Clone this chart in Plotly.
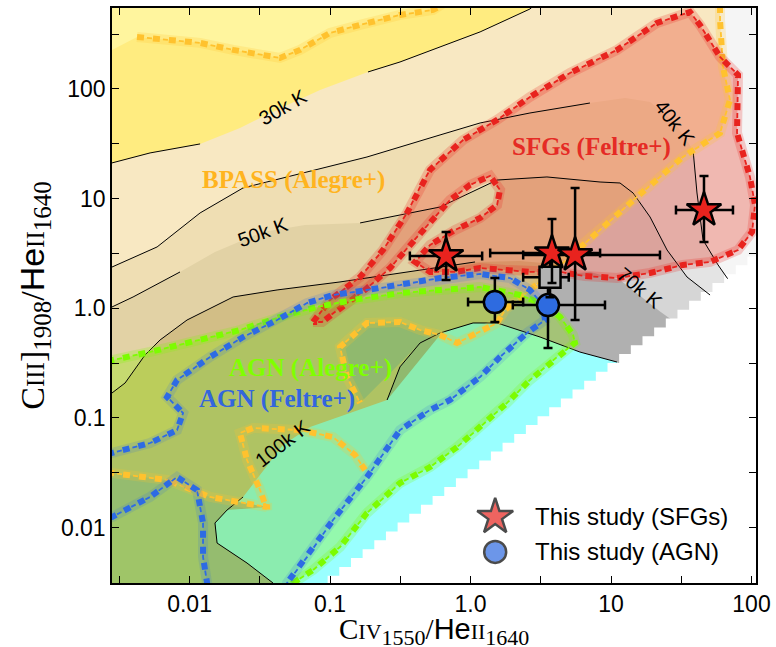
import numpy as np
import plotly.graph_objects as go

# ---------------- measurements: this study ----------------
sfg_civ = [0.67, 3.80, 5.55, 45.9]
sfg_civ_lo = [0.37, 1.38, 2.37, 29.0]
sfg_civ_hi = [1.21, 8.36, 22.3, 73.8]
sfg_ciii = [3.00, 3.19, 3.06, 7.87]
sfg_ciii_lo = [1.81, 1.70, 0.78, 4.02]
sfg_ciii_hi = [4.95, 6.52, 12.5, 16.1]

agn_civ = [1.49, 3.56]
agn_civ_lo = [0.96, 2.00]
agn_civ_hi = [2.37, 9.06]
agn_ciii = [1.14, 1.07]
agn_ciii_lo = [0.75, 0.435]
agn_ciii_hi = [1.89, 1.58]

stack_civ = [3.68]
stack_civ_lo = [2.37]
stack_civ_hi = [5.0]
stack_ciii = [1.92]
stack_ciii_lo = [1.26]
stack_ciii_hi = [2.8]

# ---------------- model grids (log10 CIV/HeII, log10 CIII]/HeII) ----------------
t30 = [(-2.70, 1.31), (-2.552, 1.325), (-2.281, 1.416), (-1.925, 1.498), (-1.641, 1.644),
       (-1.335, 1.835), (-1.071, 1.990), (-0.730, 2.154), (-0.502, 2.245), (-0.217, 2.382),
       (0.068, 2.519), (0.423, 2.728), (0.495, 2.81), (0.56, 2.90)]
t40 = [(-2.70, 0.36), (-2.552, 0.376), (-2.231, 0.559), (-1.925, 0.869), (-1.619, 1.097),
       (-1.306, 1.197), (-0.737, 1.379), (-0.217, 1.580), (0.068, 1.689), (0.423, 1.780),
       (0.850, 1.871), (1.100, 1.917), (1.278, 1.881), (1.456, 1.688), (1.584, 1.443),
       (1.612, 1.051), (1.655, 0.623), (1.762, 0.395), (1.83, 0.27), (2.00, 0.05), (2.20, -0.25)]
t50 = [(-2.70, -0.01), (-2.552, 0.012), (-2.402, 0.103), (-2.068, 0.331), (-1.819, 0.513),
       (-1.477, 0.696), (-1.178, 0.759), (-0.786, 0.778), (-0.217, 0.923), (0.189, 1.169),
       (0.544, 1.197), (0.922, 1.151), (1.064, 1.142), (1.157, 1.051), (1.278, 0.832),
       (1.399, 0.531), (1.541, 0.285), (1.705, 0.121), (1.85, -0.05), (2.2, -0.35)]
t60 = [(-2.70, -0.90), (-2.552, -0.772), (-2.459, -0.681), (-2.317, -0.426), (-2.210, -0.289),
       (-2.018, -0.107), (-1.690, 0.103), (-1.377, 0.167), (-0.929, 0.240), (-0.217, 0.376),
       (0.032, 0.422)]
t70 = [(0.35, 0.43), (0.637, 0.40), (0.851, 0.33), (1.064, 0.258), (1.349, -0.03),
       (1.491, -0.16), (1.75, -0.45), (2.2, -0.8)]
t100 = [(-1.45, -2.8), (-1.406, -2.504), (-1.591, -2.322), (-1.804, -2.140), (-1.819, -1.957),
        (-1.733, -1.839), (-1.619, -1.720), (-1.335, -1.246), (-1.142, -1.082), (-0.594, -0.836),
        (-0.502, -0.534), (-0.359, -0.316), (-0.217, -0.225), (0.018, -0.134), (0.189, -0.134),
        (0.495, -0.262), (0.779, -0.399), (1.043, -0.490), (1.4, -0.75), (1.4, -2.8)]

# BPASS coverage borders
bpass_top = [(-2.374, 2.473), (-2.160, 2.446), (-1.925, 2.419), (-1.690, 2.355), (-1.356, 2.282),
             (-1.214, 2.355), (-1.000, 2.510), (-0.786, 2.583), (-0.644, 2.628), (-0.502, 2.674),
             (-0.267, 2.719), (-0.15, 2.80), (-0.05, 2.90)]
bpass_right = [(1.776, 2.90), (1.776, 2.628), (1.797, 2.200), (1.847, 1.899), (1.776, 1.598),
               (1.512, 1.379), (1.185, 1.015), (0.922, 0.714), (0.658, 0.413), (0.423, 0.167),
               (0.246, -0.015), (0.189, -0.134), (-0.004, -0.262), (-0.096, -0.316),
               (-0.217, -0.243), (-0.359, -0.198), (-0.502, -0.125), (-0.737, -0.134),
               (-0.929, -0.353), (-0.879, -0.626), (-0.786, -0.863)]
bpass_low = [(-2.70, -1.49), (-2.552, -1.502), (-2.160, -1.565), (-1.854, -1.720), (-1.448, -1.812),
             (-1.448, -1.839), (-1.498, -1.657), (-1.591, -1.383), (-1.641, -1.137), (-1.548, -1.091),
             (-1.214, -1.110), (-0.979, -1.174), (-0.822, -1.337), (-0.751, -1.474)]

sfg_feltre = [(-1.121, -0.125), (-1.000, 0.076), (-0.786, 0.285), (-0.623, 0.531), (-0.452, 0.869),
              (-0.359, 1.106), (-0.288, 1.262), (-0.053, 1.534), (0.189, 1.717), (0.423, 1.926),
              (0.708, 2.145), (1.043, 2.355), (1.327, 2.601), (1.562, 2.701), (1.633, 2.583),
              (1.776, 2.291), (1.904, 2.127), (1.897, 1.598), (1.989, 1.197), (2.025, 0.942),
              (2.004, 0.696), (1.904, 0.531), (1.705, 0.422), (1.512, 0.395), (1.278, 0.322),
              (1.043, 0.276), (0.815, 0.294), (0.637, 0.331), (0.423, 0.331), (0.246, 0.349),
              (0.068, 0.367), (-0.110, 0.331), (-0.288, 0.331), (-0.395, 0.422), (-0.288, 0.577),
              (-0.110, 0.714), (0.068, 0.823), (0.189, 0.942), (0.210, 1.079), (0.139, 1.206),
              (-0.004, 1.124), (-0.146, 0.987), (-0.288, 0.787), (-0.431, 0.577), (-0.573, 0.367),
              (-0.751, 0.167), (-0.929, 0.003), (-1.057, -0.125)]
agn_feltre = [(-2.70, -1.30), (-2.552, -1.319), (-2.281, -1.228), (-2.089, -1.110), (-2.046, -0.955),
              (-2.160, -0.808), (-2.089, -0.654), (-1.854, -0.444), (-1.619, -0.262), (-1.377, -0.107),
              (-1.164, 0.048), (-0.979, 0.121), (-0.737, 0.167), (-0.502, 0.212), (-0.217, 0.276),
              (0.068, 0.313), (0.281, 0.276), (0.423, 0.167), (0.516, 0.030), (0.530, -0.107),
              (0.402, -0.225), (0.210, -0.444), (0.068, -0.626), (-0.146, -0.836), (-0.288, -0.927),
              (-0.502, -1.110), (-0.737, -1.538), (-0.979, -1.930), (-1.164, -2.268), (-1.306, -2.504),
              (-1.335, -2.70), (-1.875, -2.70), (-1.875, -2.504), (-1.904, -2.268), (-1.904, -1.957),
              (-1.947, -1.657), (-2.089, -1.538), (-2.281, -1.720), (-2.552, -1.903), (-2.70, -1.92)]
agn_alegre = [(-2.70, -0.49), (-2.544, -0.471), (-2.281, -0.398), (-1.925, -0.289), (-1.641, -0.198),
              (-1.356, -0.079), (-1.093, 0.012), (-0.836, 0.076), (-0.502, 0.139), (-0.217, 0.167),
              (0.068, 0.194), (0.352, 0.121), (0.530, 0.030), (0.637, -0.079), (0.730, -0.243),
              (0.744, -0.316), (0.616, -0.444), (0.423, -0.654), (0.260, -0.863), (0.068, -1.082),
              (-0.096, -1.265), (-0.288, -1.447), (-0.502, -1.593), (-0.737, -1.866), (-0.929, -2.176),
              (-1.121, -2.386), (-1.263, -2.504), (-1.30, -2.70), (-2.70, -2.70)]

# grid coverage edge and cell size
edge_start = (-1.10, -2.60)
edge_slope = 0.974
cell = 0.083

XR = [-2.552, 2.032]
YR = [-2.504, 2.737]

fig = go.Figure()


def xy(pts):
    a = np.array(pts, dtype=float)
    return 10 ** a[:, 0], 10 ** a[:, 1]


def fill(pts, color):
    x, y = xy(pts)
    fig.add_trace(go.Scatter(x=x, y=y, mode="lines", fill="toself", fillcolor=color,
                             line=dict(width=0), hoverinfo="skip", showlegend=False))


def line(pts, color, width, dash="solid", closed=False):
    p = list(pts) + ([pts[0]] if closed else [])
    x, y = xy(p)
    fig.add_trace(go.Scatter(x=x, y=y, mode="lines", line=dict(color=color, width=width, dash=dash),
                             hoverinfo="skip", showlegend=False))


def dotted(pts, color, halo, closed=False):
    line(pts, halo, 10, closed=closed)
    line(pts, color, 6, dash="7px,9px", closed=closed)
    line(pts, color, 1.8, dash="0px,10px,5px,1px", closed=closed)


# ---- temperature bands (BPASS) ----
fill([(-2.7, -2.8), (2.3, -2.8), (2.3, 2.9), (-2.7, 2.9)], "#F8E8C2")
fill(t30 + [(-2.7, 2.9)], "#FFEC80")
fill([(-2.7, 2.355), (-2.552, 2.355)] + bpass_top + [(-2.7, 2.9)], "#FFF59E")
fill(t40 + [(2.2, -2.8), (-2.7, -2.8)], "#EFDEB3")
fill(t50 + [(2.2, -2.8), (-2.7, -2.8)], "#E2D2A5")
fill(t60 + t70 + [(2.2, -2.8), (-2.7, -2.8)], "#D2BE86")
fill(t100, "#99FFFF")

# ---- outside BPASS coverage: grey levels ----
br = bpass_right[:12]
e_right = [(0.495, -0.262), (0.779, -0.399), (1.043, -0.490), (1.4, -0.75)]
fill(br + e_right + [(2.3, -0.75), (2.3, 2.9)], "#F5F5F5")
fill(t40[14:] + [(2.3, -0.3), (2.3, -0.75)] + e_right[::-1] + br[4:][::-1], "#E4E4E4")
fill(t50[13:] + [(2.3, -0.35), (2.3, -0.75)] + e_right[::-1] + br[6:][::-1], "#D6D6D6")
fill([(0.55, 0.30)] + t70[2:] + [(2.3, -0.9), (1.4, -0.9)] + e_right[:3][::-1]
     + [(0.189, -0.134), (0.246, -0.015), (0.423, 0.167)], "#B0B0B0")
fill(bpass_low[:5] + [(-1.733, -1.839), (-1.819, -1.957), (-1.804, -2.140), (-1.591, -2.322),
                      (-1.406, -2.504), (-1.45, -2.8), (-2.7, -2.8)], "#A9B39A")
fill(bpass_right[-7:] + [(-0.359, -0.316), (-0.502, -0.535), (-0.594, -0.836)], "#9FAE98")

# ---- no model coverage (stepped grid edge) ----
stairs = [(edge_start[0], -2.9)]
cx, cy = edge_start
while cx < 2.2:
    stairs.append((cx, cy))
    cy += cell * edge_slope
    stairs.append((cx, cy))
    cx += cell
stairs.append((cx, cy))
stairs += [(2.3, cy), (2.3, -2.9)]
fill(stairs, "#FFFFFF")

# ---- model regions (overlays) ----
fill(sfg_feltre, "rgba(232,60,40,0.33)")
fill(agn_alegre, "rgba(140,235,0,0.32)")
fill(agn_feltre, "rgba(40,90,210,0.08)")

# ---- temperature contours ----
k = "black"
line(t30[0:4], k, 1)
line(t30[7:13], k, 1)
line(t40[0:11], k, 1)
line(t40[14:19], k, 1)
line(t50[0:4], k, 1)
line(t50[7:18], k, 1)
line(t60, k, 1)
line(t100[0:7], k, 1)
line(t100[9:18], k, 1)

# ---- region borders ----
dotted(bpass_top, "#FFC22E", "rgba(255,194,46,0.22)")
dotted(bpass_right, "#FFC22E", "rgba(255,194,46,0.22)")
dotted(bpass_low, "#FFC22E", "rgba(255,194,46,0.22)")
dotted(sfg_feltre, "#E8231E", "rgba(232,35,30,0.22)", closed=True)
dotted(agn_alegre[:-1], "#7CFC00", "rgba(124,252,0,0.22)")
dotted(agn_feltre, "#2D6BE4", "rgba(45,107,228,0.16)")


# ---- measurements ----
def points(x, xlo, xhi, y, ylo, yhi, symbol, color, size):
    fig.add_trace(go.Scatter(
        x=x, y=y, mode="markers", showlegend=False, hoverinfo="skip",
        marker=dict(symbol=symbol, size=size, color=color, line=dict(color="black", width=2.5)),
        error_x=dict(type="data", symmetric=False, array=[h - v for h, v in zip(xhi, x)],
                     arrayminus=[v - l for v, l in zip(x, xlo)], color="black", thickness=2.5, width=4.5),
        error_y=dict(type="data", symmetric=False, array=[h - v for h, v in zip(yhi, y)],
                     arrayminus=[v - l for v, l in zip(y, ylo)], color="black", thickness=2.5, width=4.5)))


points(agn_civ, agn_civ_lo, agn_civ_hi, agn_ciii, agn_ciii_lo, agn_ciii_hi, "circle", "#2E6BE0", 22)
points(stack_civ, stack_civ_lo, stack_civ_hi, stack_ciii, stack_ciii_lo, stack_ciii_hi, "square", "#B3B3B3", 21)
points(sfg_civ, sfg_civ_lo, sfg_civ_hi, sfg_ciii, sfg_ciii_lo, sfg_ciii_hi, "star", "#E8231E", 26)

# ---- legend glyphs on an overlay frame ----
fig.add_trace(go.Scatter(x=[0.595, 0.595], y=[0.115, 0.054], xaxis="x2", yaxis="y2", mode="markers",
                         showlegend=False, hoverinfo="skip",
                         marker=dict(symbol=["star", "circle"], size=[27, 22], color=["#E8231E", "#2E6BE0"],
                                     line=dict(color="black", width=2.5))))

ann = []
for txt, yy in [("This study (SFGs)", 0.115), ("This study (AGN)", 0.054)]:
    ann.append(dict(text=txt, x=0.654, y=yy, xref="paper", yref="paper", xanchor="left", yanchor="middle",
                    showarrow=False, font=dict(family="Liberation Sans", size=24, color="black")))

for txt, lx, ly, ang in [("30k K", -1.335, 1.835, -30), ("50k K", -1.477, 0.696, -20),
                         ("40k K", 1.456, 1.689, 52), ("70k K", 1.206, 0.185, 40),
                         ("100k K", -1.335, -1.228, -38)]:
    ann.append(dict(text=txt, x=lx, y=ly, xref="x", yref="y", showarrow=False, textangle=ang,
                    font=dict(family="Liberation Sans", size=20, color="black")))

for txt, lx, ly, col in [("BPASS (Alegre+)", -1.263, 1.170, "#FFB41F"),
                         ("SFGs (Feltre+)", 0.858, 1.470, "#E52B25"),
                         ("AGN (Alegre+)", -1.142, -0.544, "#7FFF00"),
                         ("AGN (Feltre+)", -1.377, -0.827, "#3366DD")]:
    ann.append(dict(text="<b>" + txt + "</b>", x=lx, y=ly, xref="x", yref="y", showarrow=False,
                    font=dict(family="Liberation Serif", size=25, color=col)))


def title_text(ion, bracket, wl, size):
    s = "font-size:%dpx" % size
    return ("C<span style='%s'>%s</span>%s<sub><span style='%s'>%s</span></sub>/"
            "<span style='font-family:Liberation Sans'>He</span>"
            "<span style='%s'>II</span><sub><span style='%s'>1640</span></sub>" % (s, ion, bracket, s, wl, s, s))


xtitle = title_text("IV", "", "1550", 22)
ytitle = title_text("III", "]", "1908", 25)

# x-axis title placed just under the tick labels
ann.append(dict(text=xtitle, x=0.5, y=-0.084, xref="paper", yref="paper", xanchor="center",
                yanchor="middle", showarrow=False,
                font=dict(family="Liberation Serif", size=29, color="black")))

half = [-2.5, -1.5, -0.5, 0.5, 1.5, 2.5]
axis_common = dict(type="log", showgrid=False, zeroline=False, showline=True, linecolor="black",
                   linewidth=1.5, mirror="ticks", ticks="inside", ticklen=7, tickwidth=1.2,
                   tickcolor="black", automargin=False,
                   tickfont=dict(family="Liberation Sans", size=23, color="black"),
                   tickvals=[0.01, 0.1, 1, 10, 100], ticktext=["0.01", "0.1", "1.0", "10", "100"],
                   minor=dict(tickvals=[10 ** h for h in half], ticks="inside", ticklen=7,
                              tickcolor="black", tickwidth=1.2))

fig.update_layout(
    width=776, height=647, margin=dict(l=112, r=20, t=8, b=64),
    paper_bgcolor="white", plot_bgcolor="white", showlegend=False,
    xaxis=dict(range=XR, **axis_common),
    yaxis=dict(range=YR, title=dict(text=ytitle, standoff=6,
                                    font=dict(family="Liberation Serif", size=34, color="black")),
               **axis_common),
    xaxis2=dict(range=[0, 1], overlaying="x", visible=False),
    yaxis2=dict(range=[0, 1], overlaying="y", visible=False),
    annotations=ann,
)

fig.write_html("out.html")
